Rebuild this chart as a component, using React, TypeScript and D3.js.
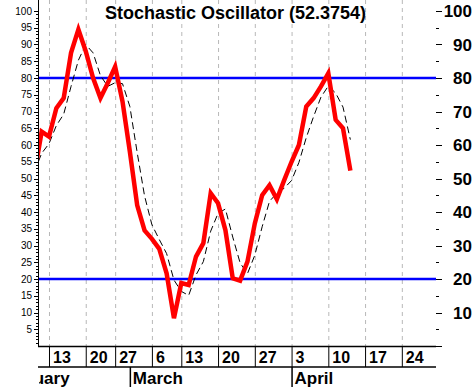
import React, { useEffect, useRef } from 'react';
import * as d3 from 'd3';

// trading-day index of first value is -2 (two days before Feb 13)
const firstIndex = -2;
const kValues = [
  51, 64, 62.5, 71, 74, 87.5, 94.5, 88, 80, 74,
  78.5, 83.4, 73, 58, 42, 34.5, 32, 29, 21.7, 8.3,
  18.8, 18.2, 26.7, 30.7, 45.6, 42.6, 34.6, 20.2, 19.5, 25.2,
  36.6, 45, 48, 43.8, 49.5, 55, 60, 71.5, 74, 77.5,
  81.4, 67.5, 65, 52.3754,
];
const dValues = [
  52, 57.5, 60.4, 65.8, 69.2, 77.5, 85.3, 90, 87.5, 80.7,
  77.5, 78.6, 78.3, 71.5, 57.7, 44.8, 36.2, 31.8, 27.6, 19.7,
  16.3, 15.1, 21.2, 25.2, 34.3, 39.6, 40.9, 32.5, 24.8, 21.6,
  27.1, 35.6, 43.2, 45.6, 47.1, 49.4, 54.8, 62.2, 68.5, 74.3,
  77.6, 75.5, 71.3, 61.6,
];

// week starts (trading-day index) and their labels
const weekIndex = [0, 5, 9, 14, 18, 23, 28, 33, 38, 43, 48];
const weekLabels = ['13', '20', '27', '6', '13', '20', '27', '3', '10', '17', '24'];
const monthIndex = [-7.5, 11, 33];
const monthLabels = ['February', 'March', 'April'];

const leftTicks = d3.range(5, 101, 5);
const rightTicks = d3.range(10, 101, 10);
const levels = [80, 20];
const title = 'Stochastic Oscillator (52.3754)';

export default function App() {
  const ref = useRef(null);

  useEffect(() => {
    const width = 474;
    const height = 387;
    const left = 39;
    const right = 436;
    const bottom = 346;
    const font = '"Liberation Sans", Arial, sans-serif';

    d3.select(ref.current).selectAll('*').remove();
    const svg = d3.select(ref.current)
      .append('svg')
      .attr('width', width)
      .attr('height', height)
      .style('position', 'absolute')
      .style('left', '0px')
      .style('top', '0px')
      .style('background', '#fff');

    const x = d3.scaleLinear().domain([-1.36, 52.65]).range([left, right]);
    const y = d3.scaleLinear().domain([0, 100]).range([bottom, 11]);

    svg.append('clipPath').attr('id', 'plot')
      .append('rect').attr('x', left).attr('y', 0)
      .attr('width', right - left).attr('height', bottom);
    svg.append('clipPath').attr('id', 'months')
      .append('rect').attr('x', left).attr('y', bottom)
      .attr('width', right - left).attr('height', height - bottom);

    // vertical dashed grid
    svg.append('g').selectAll('line').data(weekIndex).enter().append('line')
      .attr('x1', d => x(d) + 0.5).attr('x2', d => x(d) + 0.5)
      .attr('y1', 0).attr('y2', bottom)
      .attr('stroke', '#b8b8b8').attr('stroke-dasharray', '4,4');

    // 80 / 20 levels
    svg.append('g').selectAll('line').data(levels).enter().append('line')
      .attr('x1', left).attr('x2', right)
      .attr('y1', d => y(d)).attr('y2', d => y(d))
      .attr('stroke', '#0000ff').attr('stroke-width', 2.5);

    const plot = svg.append('g').attr('clip-path', 'url(#plot)');
    const line = d3.line<number>()
      .x((d, i) => x(i + firstIndex))
      .y(d => y(d));

    plot.append('path').datum(dValues)
      .attr('d', line)
      .attr('fill', 'none').attr('stroke', '#000').attr('stroke-width', 1)
      .attr('stroke-dasharray', '7,4');

    plot.append('path').datum(kValues)
      .attr('d', line)
      .attr('fill', 'none').attr('stroke', '#ff0000').attr('stroke-width', 4.5);

    // left axis
    svg.append('line')
      .attr('x1', left - 0.5).attr('x2', left - 0.5).attr('y1', 0).attr('y2', bottom + 1)
      .attr('stroke', '#000');
    svg.append('g').selectAll('line').data(d3.range(1, 101)).enter().append('line')
      .attr('x1', d => (d % 5 === 0 ? left - 5 : left - 3)).attr('x2', left)
      .attr('y1', d => Math.round(y(d)) + 0.5).attr('y2', d => Math.round(y(d)) + 0.5)
      .attr('stroke', '#000');
    svg.append('g').selectAll('text').data(leftTicks).enter().append('text')
      .attr('x', 32).attr('y', d => y(d) + 3.5)
      .attr('text-anchor', 'end')
      .style('font', `10px ${font}`)
      .text(d => d);

    // right axis
    svg.append('g').selectAll('line').data(d3.range(5, 101, 5)).enter().append('line')
      .attr('x1', right).attr('x2', d => (d % 10 === 0 ? right + 6 : right + 3))
      .attr('y1', d => Math.round(y(d)) + 0.5).attr('y2', d => Math.round(y(d)) + 0.5)
      .attr('stroke', '#000');
    svg.append('line')
      .attr('x1', right).attr('x2', right + 6).attr('y1', bottom + 0.5).attr('y2', bottom + 0.5)
      .attr('stroke', '#000');
    svg.append('g').selectAll('text').data(rightTicks).enter().append('text')
      .attr('x', 472).attr('y', d => y(d) + 6)
      .attr('text-anchor', 'end')
      .style('font', `bold 17px ${font}`)
      .text(d => d);

    // bottom date rows
    svg.append('line')
      .attr('x1', left - 1).attr('x2', right).attr('y1', bottom + 0.5).attr('y2', bottom + 0.5)
      .attr('stroke', '#000').attr('stroke-width', 1.5);
    svg.append('line')
      .attr('x1', left - 1).attr('x2', right).attr('y1', 367).attr('y2', 367)
      .attr('stroke', '#000').attr('stroke-width', 1.5);
    svg.append('g').selectAll('line').data(weekIndex).enter().append('line')
      .attr('x1', d => x(d) + 0.5).attr('x2', d => x(d) + 0.5)
      .attr('y1', bottom).attr('y2', 367)
      .attr('stroke', '#000');
    svg.append('g').selectAll('text').data(weekIndex).enter().append('text')
      .attr('x', d => x(d) + 4).attr('y', 363)
      .style('font', `bold 16px ${font}`)
      .text((d, i) => weekLabels[i]);

    svg.append('g').selectAll('line').data(monthIndex.slice(1)).enter().append('line')
      .attr('x1', d => x(d) + 0.5).attr('x2', d => x(d) + 0.5)
      .attr('y1', 367).attr('y2', height)
      .attr('stroke', '#000').attr('stroke-width', 1.5);
    svg.append('g').attr('clip-path', 'url(#months)')
      .selectAll('text').data(monthIndex).enter().append('text')
      .attr('x', d => x(d) + 3).attr('y', 384)
      .style('font', `bold 17px ${font}`)
      .text((d, i) => monthLabels[i]);

    svg.append('text')
      .attr('x', 105).attr('y', 19)
      .style('font', `bold 18px ${font}`)
      .text(title);
  }, []);

  return <div ref={ref}></div>;
}
